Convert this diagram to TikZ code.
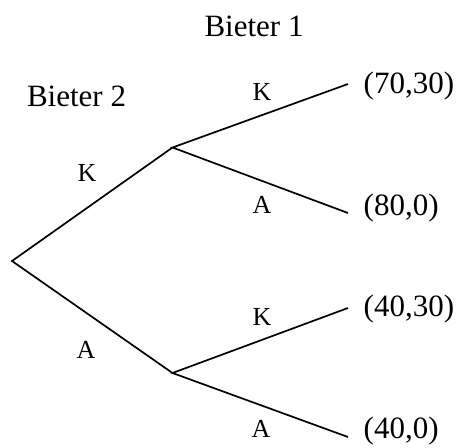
\documentclass[tikz,border=0pt]{standalone}
\usepackage{fontspec}
\setmainfont{Liberation Serif}
\begin{document}
\begin{tikzpicture}[x=1pt,y=-1pt,
  edge/.style={line width=1.7pt},
  big/.style={inner sep=0pt,font=\fontsize{31}{31}\selectfont},
  lbl/.style={inner sep=0pt,font=\fontsize{26}{26}\selectfont},
  leaf/.style={big,anchor=west}]
\useasboundingbox (0,0) rectangle (457,447);
\coordinate (r) at (12,261);
\coordinate (u) at (172.5,147.5);
\coordinate (d) at (172.5,373);
\coordinate (e1) at (348,84);
\coordinate (e2) at (348,213);
\coordinate (e3) at (348,308);
\coordinate (e4) at (348,437);
\draw[edge,line join=miter] (u) -- (r) -- (d);
\draw[edge] (e1) -- (u) -- (e2);
\draw[edge] (e3) -- (d) -- (e4);
\node[big] (b1) at (254,26) {Bieter 1};
\node[big] (b2) at (76.5,96) {Bieter 2};
\node[lbl] (k0) at (87,173) {K};
\node[lbl] (a0) at (86,350) {A};
\node[lbl] (k1) at (262,92) {K};
\node[lbl] (a1) at (262,205) {A};
\node[lbl] (k2) at (262,317) {K};
\node[lbl] (a2) at (261,429) {A};
\node[leaf] (p1) at (363.5,86) {(70,30)};
\node[leaf] (p2) at (363.5,208) {(80,0)};
\node[leaf] (p3) at (363.5,309) {(40,30)};
\node[leaf] (p4) at (363.5,431) {(40,0)};
\end{tikzpicture}
\end{document}
